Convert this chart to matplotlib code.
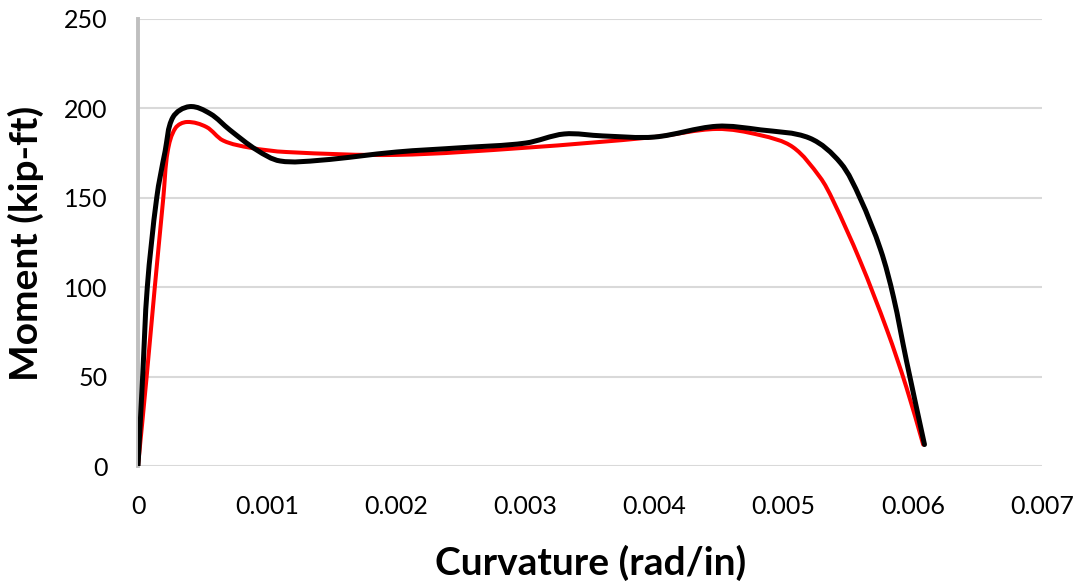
import numpy as np
import matplotlib.pyplot as plt
from matplotlib.path import Path
from matplotlib.patches import PathPatch

plt.rcParams['font.family'] = ['Lato', 'DejaVu Sans']

# moment-curvature response, two models
curv_red = [0, 0.000067, 0.00013, 0.000196, 0.00023, 0.00029, 0.00038, 0.00053,
            0.00066, 0.00087, 0.00115, 0.002, 0.003, 0.004, 0.00448, 0.00482,
            0.00507, 0.00528, 0.00538, 0.00559, 0.0058, 0.00595, 0.00608]
mom_red = [0, 50, 100, 150, 176, 189, 192.4, 189.6,
           182, 178, 175.6, 174, 178, 184, 188.5, 185,
           178.4, 161.6, 148.8, 115, 76, 44, 12]

curv_blk = [0, 0.000036, 0.000072, 0.000145, 0.00021, 0.00027, 0.0004, 0.00056,
            0.00071, 0.00092, 0.0011, 0.00141, 0.002, 0.0025, 0.003, 0.0033,
            0.0036, 0.004, 0.00448, 0.00482, 0.0052, 0.00544, 0.00559, 0.00575,
            0.00585, 0.00595, 0.00609]
mom_blk = [0, 50, 100, 150, 176, 195, 201, 197,
           188, 176.7, 170.6, 171, 175.6, 178, 180.6, 185.7,
           184.6, 184, 190, 188, 183.4, 169.5, 150, 121,
           94.5, 59, 12]

XMAX, YMAX = 0.007, 250
AX_W, AX_H = 904, 447  # axes size in pixels


def smooth_path(x, y):
    # cubic bezier through the points, tangents taken in screen proportions
    sx, sy = AX_W / XMAX, AX_H / YMAX
    p = np.column_stack([np.asarray(x) * sx, np.asarray(y) * sy])
    n = len(p)
    tang = np.zeros_like(p)
    for i in range(n):
        a = p[max(i - 1, 0)]
        b = p[min(i + 1, n - 1)]
        d = b - a
        tang[i] = d / np.hypot(*d)
    verts = [p[0]]
    codes = [Path.MOVETO]
    for i in range(n - 1):
        seg = np.hypot(*(p[i + 1] - p[i])) / 3
        verts += [p[i] + tang[i] * seg, p[i + 1] - tang[i + 1] * seg, p[i + 1]]
        codes += [Path.CURVE4] * 3
    verts = np.array(verts) / [sx, sy]
    return Path(verts, codes)


fig = plt.figure(figsize=(10.82, 5.84), dpi=100)
ax = fig.add_axes([138 / 1082, 1 - 466 / 584, AX_W / 1082, AX_H / 584])

for cx, my, col, lw in [(curv_red, mom_red, '#ff0000', 2.9),
                        (curv_blk, mom_blk, '#000000', 3.6)]:
    patch = PathPatch(smooth_path(cx, my), facecolor='none', edgecolor=col,
                      lw=lw, capstyle='round', joinstyle='round', zorder=3)
    ax.add_patch(patch)

ax.set_xlim(0, XMAX)
ax.set_ylim(0, YMAX)
ax.set_xticks(np.arange(0, 0.0071, 0.001))
ax.set_xticklabels(['0', '0.001', '0.002', '0.003', '0.004', '0.005', '0.006', '0.007'])
ax.set_yticks(np.arange(0, 251, 50))
ax.grid(axis='y', color='#d9d9d9', lw=1.5)
ax.set_axisbelow(True)

for s in ['top', 'right', 'bottom']:
    ax.spines[s].set_visible(False)
ax.spines['left'].set_color('#bfbfbf')
ax.spines['left'].set_linewidth(2.8)
ax.tick_params(length=0, labelsize=18)
ax.tick_params(axis='x', pad=21)
ax.tick_params(axis='y', pad=22)

fig.text(591 / 1082, 1 - 563 / 584, 'Curvature (rad/in)', fontsize=28,
         fontweight='bold', ha='center', va='center')
fig.text(26 / 1082, 1 - 243 / 584, 'Moment (kip-ft)', fontsize=28,
         fontweight='bold', ha='center', va='center', rotation=90)

fig.savefig('out.png', dpi=100)
